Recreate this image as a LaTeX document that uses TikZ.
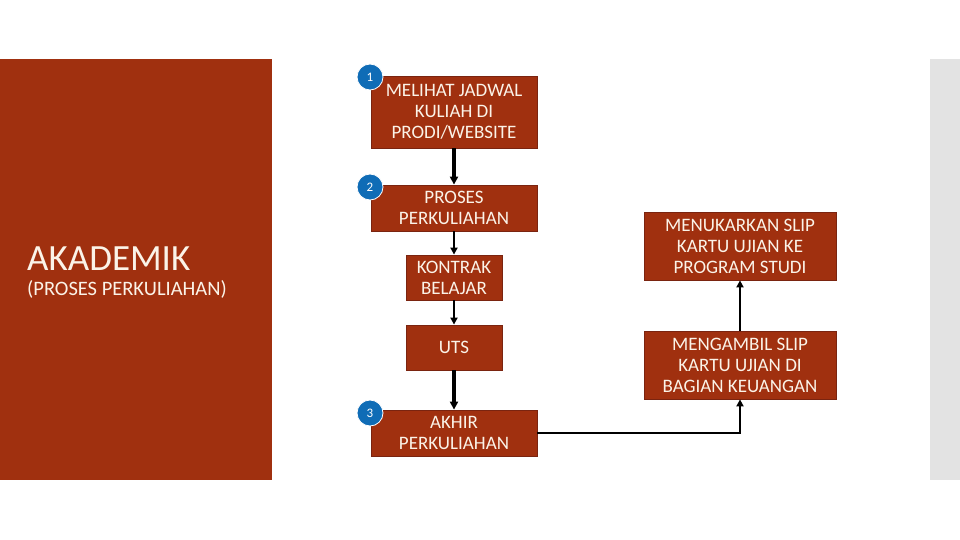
\documentclass[tikz,border=0pt]{standalone}
\usepackage{fontspec}
\setmainfont{Carlito}
\usetikzlibrary{arrows.meta}
\definecolor{rust}{HTML}{A0300F}
\definecolor{rustdark}{HTML}{7A2410}
\definecolor{cream}{HTML}{FBF3E8}
\definecolor{badgeblue}{HTML}{0F6CB6}
\definecolor{stripgray}{HTML}{E3E3E3}
\tikzset{
  flowbox/.style={draw=rustdark, line width=0.8pt, fill=rust, text=cream, align=center,
    inner sep=0pt, font=\fontsize{19}{21}\selectfont},
  badge/.style={circle, fill=badgeblue, draw=white, line width=0.8pt, text=white,
    minimum size=26pt, inner sep=0pt, font=\fontsize{13}{14}\selectfont},
  thinarrow/.style={draw=black, line width=2.2pt, -{Triangle[length=7pt,width=7pt]}},
  thickarrow/.style={draw=black, line width=3.2pt, -{Triangle[length=8pt,width=8pt]}}
}
\begin{document}
\begin{tikzpicture}[x=1pt,y=-1pt]
\useasboundingbox (0,0) rectangle (960,540);
\fill[white] (0,0) rectangle (960,540);
\fill[rust] (0,59) rectangle (272,480);
\fill[stripgray] (930,59) rectangle (960,480);
\node[anchor=base west, text=cream, inner sep=0pt, font=\fontsize{37}{40}\selectfont] (title) at (27,270) {AKADEMIK};
\node[anchor=base west, text=cream, inner sep=0pt, font=\fontsize{20.5}{23}\selectfont] (subtitle) at (27,295) {(PROSES PERKULIAHAN)};

\node[flowbox, minimum width=166pt, minimum height=72pt] (b1) at (454,112) {MELIHAT JADWAL\\KULIAH DI\\PRODI/WEBSITE};
\node[flowbox, minimum width=166pt, minimum height=46pt] (b2) at (454,208) {PROSES\\PERKULIAHAN};
\node[flowbox, minimum width=96pt, minimum height=45pt] (b3) at (454,277.5) {KONTRAK\\BELAJAR};
\node[flowbox, minimum width=96pt, minimum height=45pt] (b4) at (454,347.5) {UTS};
\node[flowbox, minimum width=166pt, minimum height=46pt] (b5) at (454,433) {AKHIR\\PERKULIAHAN};
\node[flowbox, minimum width=192pt, minimum height=68pt] (b6) at (740,246) {MENUKARKAN SLIP\\KARTU UJIAN KE\\PROGRAM STUDI};
\node[flowbox, minimum width=192pt, minimum height=68pt] (b7) at (740,365) {MENGAMBIL SLIP\\KARTU UJIAN DI\\BAGIAN KEUANGAN};

\node[badge] (n1) at (370,77) {1};
\node[badge] (n2) at (370,187) {2};
\node[badge] (n3) at (370,413) {3};

\draw[thickarrow] (b1) -- (b2);
\draw[thinarrow] (b2) -- (b3);
\draw[thinarrow] (b3) -- (b4);
\draw[thickarrow] (b4) -- (b5);
\draw[thinarrow] (b5.east) -| (b7.south);
\draw[thinarrow] (b7) -- (b6);
\end{tikzpicture}
\end{document}
